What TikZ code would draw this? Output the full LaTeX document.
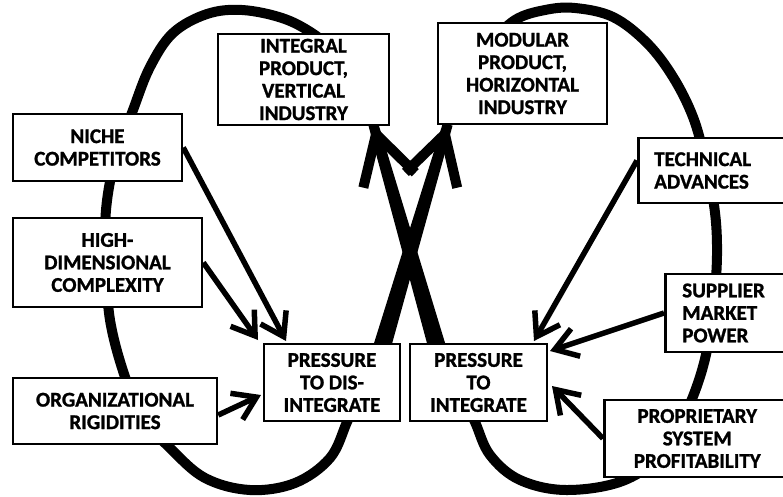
\documentclass[tikz,border=0pt]{standalone}
\usepackage{fontspec}
\setmainfont{Carlito}
\newfontfamily\boxfont{Carlito}[BoldFeatures={FakeBold=1.2}]
\usetikzlibrary{arrows.meta,calc,backgrounds}
\begin{document}
\begin{tikzpicture}[x=1pt,y=-1pt,
  box/.style={draw, line width=2.5pt, fill=white, inner sep=0pt, align=center,
    font=\boxfont\bfseries\fontsize{21}{22.5}\selectfont},
  rbox/.style={box, anchor=west, align=left, inner xsep=16pt},
  loopline/.style={line width=10pt},
  bighead/.style={line width=10pt, -{Straight Barb[length=48pt,width=54pt,line width=10pt]}},
  smallarrow/.style={line width=5.5pt, -{Straight Barb[length=22pt,width=29pt,line width=5.5pt]}}]
\useasboundingbox (0,0) rectangle (783,496);
\clip (0,0) rectangle (783,496);

% boxes
\node[box, minimum width=171pt, minimum height=91pt] (integral) at (303.5,79.5) {INTEGRAL\\PRODUCT,\\VERTICAL\\INDUSTRY};
\node[box, minimum width=169pt, minimum height=101pt] (modular) at (522.5,73.5) {MODULAR\\PRODUCT,\\HORIZONTAL\\INDUSTRY};
\node[box, minimum width=169pt, minimum height=67pt] (niche) at (97.5,147.5) {NICHE\\COMPETITORS};
\node[box, minimum width=189pt, minimum height=89pt] (high) at (107.5,262.5) {HIGH-\\DIMENSIONAL\\COMPLEXITY};
\node[box, minimum width=204pt, minimum height=66pt] (org) at (115,411) {ORGANIZATIONAL\\RIGIDITIES};
\node[box, minimum width=136pt, minimum height=77pt] (dis) at (332,382.5) {PRESSURE\\TO DIS-\\INTEGRATE};
\node[box, minimum width=137pt, minimum height=77pt] (integ) at (478.5,382.5) {PRESSURE\\TO\\INTEGRATE};
\node[rbox, text width=130pt, minimum height=65pt] (tech) at (637,170.5) {TECHNICAL\\ADVANCES};
\node[rbox, inner xsep=17pt, text width=110pt, minimum height=78pt] (supp) at (664,313) {SUPPLIER\\MARKET\\POWER};
\node[box, anchor=west, minimum width=186pt, minimum height=77pt] (prop) at (603,438.5) {PROPRIETARY\\SYSTEM\\PROFITABILITY};

% connector end points
\coordinate (iA) at ($(integral.south east)+(-17,-2)$);
\coordinate (mA) at ($(modular.south west)+(11,-1)$);
\coordinate (dS) at ($(dis.north east)+(-23,17)$);
\coordinate (gS) at ($(integ.north west)+(32,17)$);

\begin{pgfonlayer}{background}
  \fill[white] (0,0) rectangle (783,496);
  % left loop
  \draw[loopline] plot[smooth, tension=0.6] coordinates {
    (340,55) (312,33) (282,18) (242,10) (207,14) (173,33) (150,67) (133,110)
    (115,160) (106,210) (106,260) (110,320) (125,377) (143,418) (170,448)
    (205,478) (250,490) (295,483) (330,458) (347,422) (360,392)};
  % right loop
  \draw[loopline] plot[smooth, tension=0.6] coordinates {
    (488,45) (515,20) (545,10) (575,8) (613,17) (647,43) (673,77) (693,117)
    (705,160) (714,205) (717,245) (715,290) (707,350) (692,399) (668,448)
    (625,480) (567,490) (520,480) (490,455) (475,422) (462,395)};
  % crossing arrows: tapered shafts with open heads
  \fill ($(dS)!9pt!90:(mA)$) -- ($(mA)!5pt!-90:(dS)$) -- ($(mA)!5pt!90:(dS)$) -- ($(dS)!9pt!-90:(mA)$) -- cycle;
  \fill ($(gS)!9pt!90:(iA)$) -- ($(iA)!5pt!-90:(gS)$) -- ($(iA)!5pt!90:(gS)$) -- ($(gS)!9pt!-90:(iA)$) -- cycle;
  \draw[bighead] ($(dS)!0.7!(mA)$) -- (mA);
  \draw[bighead] ($(gS)!0.7!(iA)$) -- (iA);
\end{pgfonlayer}

% factor arrows
\coordinate (t1) at (286,341);
\coordinate (t2) at (258,340);
\coordinate (t3) at (261,395);
\coordinate (t4) at (534,341);
\coordinate (t5) at (550,351);
\coordinate (t6) at (552,386);
\draw[smallarrow] (niche.east) -- (t1);
\draw[smallarrow] (high.east) -- (t2);
\draw[smallarrow] ([yshift=-4pt]org.east) -- (t3);
\draw[smallarrow] ([yshift=10pt]tech.west) -- (t4);
\draw[smallarrow] (supp.west) -- (t5);
\draw[smallarrow] (prop.west) -- (t6);
\end{tikzpicture}
\end{document}
